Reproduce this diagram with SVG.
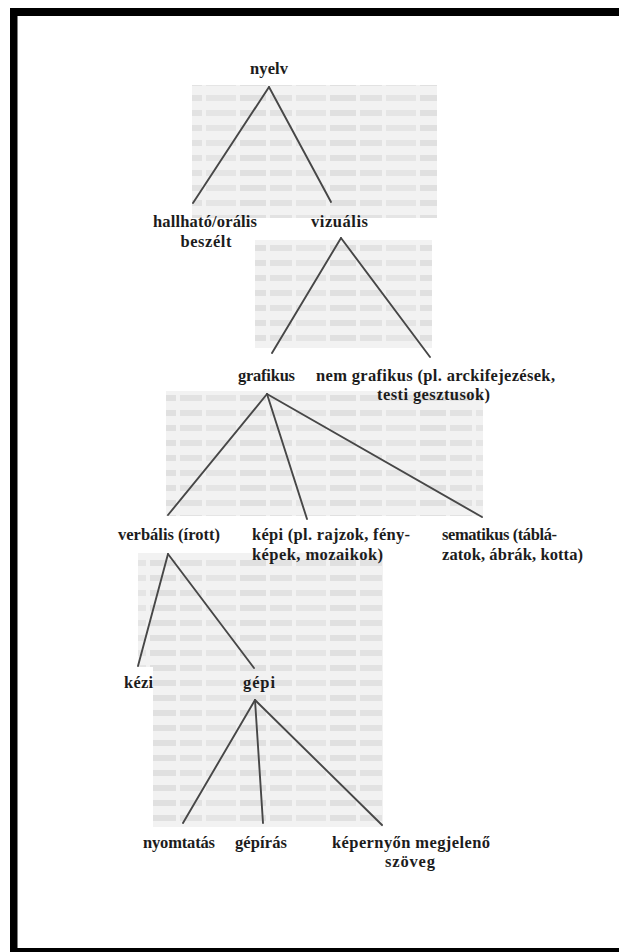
<svg xmlns="http://www.w3.org/2000/svg" width="619" height="952" viewBox="0 0 619 952">
<defs>
<pattern id="scan" patternUnits="userSpaceOnUse" width="90" height="15">
<rect x="0" y="0" width="90" height="15" fill="#f2f2f2"/>
<rect x="0" y="5" width="22" height="6" fill="#e2e2e2"/>
<rect x="26" y="5" width="30" height="6" fill="#e5e5e5"/>
<rect x="60" y="5" width="26" height="6" fill="#e0e0e0"/>
</pattern>
<style>
.bg{fill:url(#scan);stroke:none}
.lbl{font-family:"Liberation Serif","Times New Roman",serif;font-weight:bold;font-size:16.5px;fill:#1c1c1c}
.c{text-anchor:middle}
.edge{stroke:#474747;stroke-width:1.9;fill:none;stroke-linecap:round}
.frame{fill:#000}
</style>
</defs>
<rect x="0" y="0" width="619" height="952" fill="#fff"/>
<g id="background">
<rect class="bg" x="192" y="85" width="245" height="133"/>
<rect class="bg" x="255" y="240" width="177" height="108"/>
<rect class="bg" x="166" y="391" width="317" height="125"/>
<polygon class="bg" points="138,553 383,553 383,827 153,827 153,667 138,667"/>
</g>
<g id="frame">
<rect class="frame" x="10" y="8" width="609" height="8"/>
<rect class="frame" x="10" y="8" width="7.5" height="944"/>
<rect class="frame" x="10" y="948" width="609" height="4"/>
</g>
<g id="connectors">
<line class="edge" x1="269" y1="87" x2="193" y2="203"/>
<line class="edge" x1="269" y1="87" x2="331" y2="202"/>
<line class="edge" x1="341" y1="238" x2="272" y2="353"/>
<line class="edge" x1="341" y1="238" x2="430" y2="357"/>
<line class="edge" x1="267" y1="394" x2="168" y2="515"/>
<line class="edge" x1="267" y1="394" x2="307" y2="519"/>
<line class="edge" x1="267" y1="394" x2="482" y2="517"/>
<line class="edge" x1="168" y1="554" x2="138" y2="666"/>
<line class="edge" x1="168" y1="554" x2="254" y2="668"/>
<line class="edge" x1="255" y1="700" x2="183" y2="823"/>
<line class="edge" x1="255" y1="700" x2="263" y2="823"/>
<line class="edge" x1="255" y1="700" x2="382" y2="825"/>
</g>
<g id="n-nyelv"><text class="lbl c" x="269" y="74" textLength="38">nyelv</text></g>
<g id="n-hallhato">
<text class="lbl c" x="205" y="227" textLength="104">hallható/orális</text>
<text class="lbl c" x="206" y="247" textLength="51">beszélt</text>
</g>
<g id="n-vizualis"><text class="lbl c" x="339.5" y="227" textLength="57">vizuális</text></g>
<g id="n-grafikus"><text class="lbl c" x="266.5" y="381" textLength="57">grafikus</text></g>
<g id="n-nemgrafikus">
<text class="lbl c" x="435.5" y="381" textLength="239">nem grafikus (pl. arckifejezések,</text>
<text class="lbl c" x="433.5" y="400" textLength="113">testi gesztusok)</text>
</g>
<g id="n-verbalis"><text class="lbl c" x="169" y="540" textLength="102">verbális (írott)</text></g>
<g id="n-kepi">
<text class="lbl" x="252" y="540" textLength="158">képi (pl. rajzok, fény-</text>
<text class="lbl" x="252" y="560" textLength="131">képek, mozaikok)</text>
</g>
<g id="n-sematikus">
<text class="lbl" x="442" y="540" textLength="115">sematikus (táblá-</text>
<text class="lbl" x="442" y="560" textLength="141">zatok, ábrák, kotta)</text>
</g>
<g id="n-kezi"><text class="lbl" x="124" y="688" textLength="29">kézi</text></g>
<g id="n-gepi"><text class="lbl c" x="259" y="688" textLength="32">gépi</text></g>
<g id="n-nyomtatas"><text class="lbl c" x="179" y="848" textLength="72">nyomtatás</text></g>
<g id="n-gepiras"><text class="lbl c" x="261" y="848" textLength="52">gépírás</text></g>
<g id="n-kepernyon">
<text class="lbl c" x="411" y="848" textLength="158">képernyőn megjelenő</text>
<text class="lbl c" x="410" y="867" textLength="50">szöveg</text>
</g>
</svg>
